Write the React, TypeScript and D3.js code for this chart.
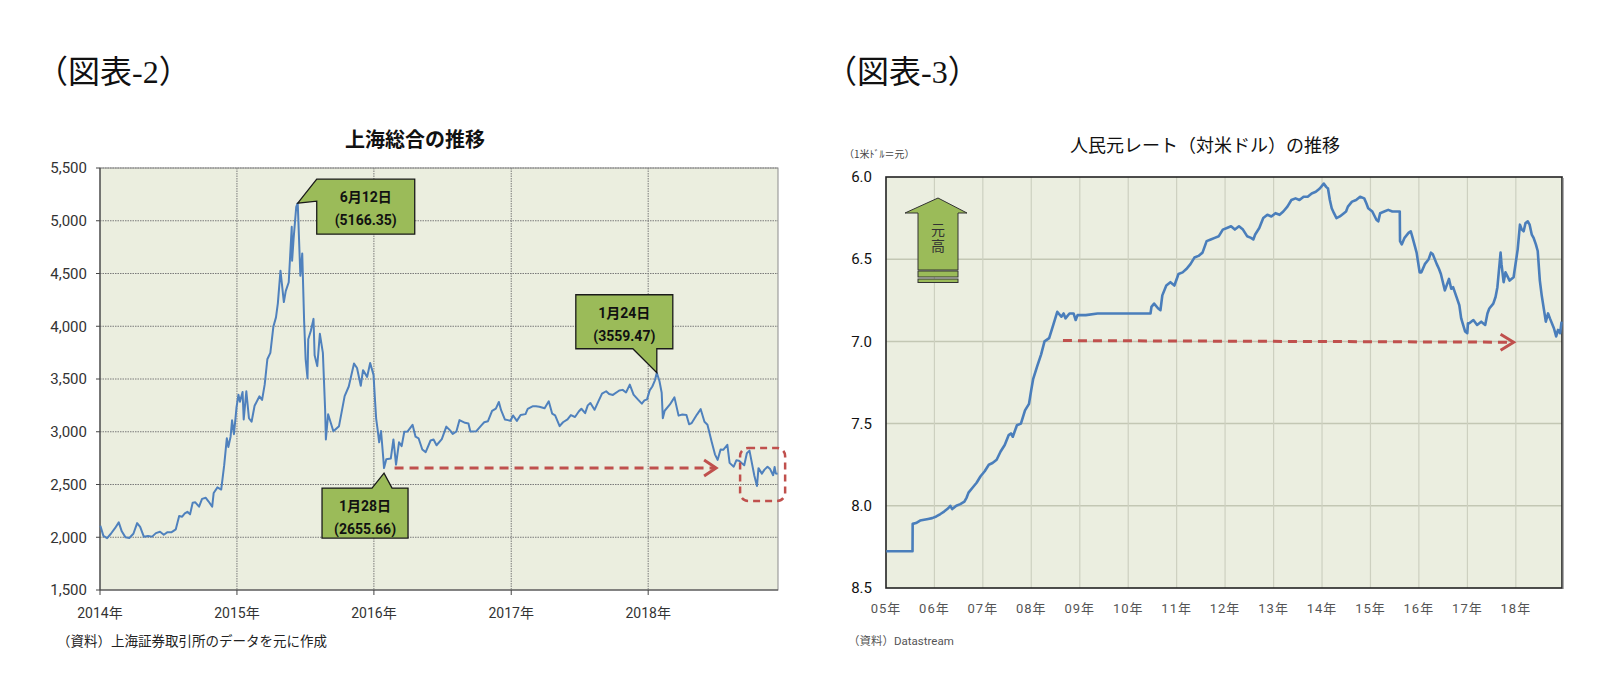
import React from 'react';
import * as d3 from 'd3';

// 上海総合指数（終値, 抜粋）
const shanghaiIndex: [string, number][] = [
  ['2014-01-02', 2109], ['2014-01-10', 2013], ['2014-01-20', 1991], ['2014-01-30', 2033],
  ['2014-02-10', 2086], ['2014-02-20', 2141], ['2014-02-28', 2056], ['2014-03-10', 1999],
  ['2014-03-20', 1993], ['2014-03-31', 2033], ['2014-04-10', 2134], ['2014-04-18', 2098],
  ['2014-04-28', 2004], ['2014-05-09', 2011], ['2014-05-20', 2006], ['2014-05-30', 2039],
  ['2014-06-10', 2052], ['2014-06-20', 2024], ['2014-06-30', 2048], ['2014-07-10', 2047],
  ['2014-07-22', 2075], ['2014-07-31', 2201], ['2014-08-08', 2195], ['2014-08-15', 2226],
  ['2014-08-22', 2241], ['2014-08-29', 2217], ['2014-09-05', 2327], ['2014-09-12', 2331],
  ['2014-09-22', 2290], ['2014-09-30', 2364], ['2014-10-10', 2374], ['2014-10-17', 2341],
  ['2014-10-27', 2290], ['2014-10-31', 2420], ['2014-11-10', 2473], ['2014-11-20', 2452],
  ['2014-11-28', 2683], ['2014-12-05', 2938], ['2014-12-09', 2856], ['2014-12-15', 2953],
  ['2014-12-19', 3108], ['2014-12-24', 2977], ['2014-12-31', 3235],
  ['2015-01-05', 3351], ['2015-01-09', 3285], ['2015-01-16', 3376], ['2015-01-19', 3116],
  ['2015-01-26', 3383], ['2015-02-02', 3128], ['2015-02-09', 3095], ['2015-02-17', 3247],
  ['2015-03-02', 3336], ['2015-03-09', 3302], ['2015-03-16', 3449], ['2015-03-23', 3687],
  ['2015-03-31', 3748], ['2015-04-08', 3995], ['2015-04-15', 4084], ['2015-04-20', 4217],
  ['2015-04-27', 4527], ['2015-05-06', 4229], ['2015-05-11', 4333], ['2015-05-19', 4417],
  ['2015-05-27', 4942], ['2015-05-28', 4621], ['2015-06-01', 4829], ['2015-06-08', 5131],
  ['2015-06-12', 5166.35], ['2015-06-19', 4478], ['2015-06-24', 4690], ['2015-06-29', 4053],
  ['2015-07-03', 3687], ['2015-07-08', 3507], ['2015-07-10', 3877], ['2015-07-17', 3957],
  ['2015-07-24', 4070], ['2015-07-27', 3725], ['2015-08-03', 3622], ['2015-08-10', 3928],
  ['2015-08-18', 3748], ['2015-08-24', 3209], ['2015-08-26', 2927], ['2015-09-01', 3166],
  ['2015-09-15', 3005], ['2015-09-30', 3053], ['2015-10-15', 3338], ['2015-10-26', 3429],
  ['2015-11-09', 3646], ['2015-11-17', 3604], ['2015-11-27', 3436], ['2015-12-03', 3584],
  ['2015-12-14', 3520], ['2015-12-22', 3651], ['2015-12-31', 3539],
  ['2016-01-04', 3296], ['2016-01-07', 3125], ['2016-01-11', 3017], ['2016-01-15', 2900],
  ['2016-01-20', 3007], ['2016-01-26', 2749], ['2016-01-28', 2655.66], ['2016-02-03', 2739],
  ['2016-02-15', 2746], ['2016-02-22', 2927], ['2016-02-29', 2688], ['2016-03-08', 2901],
  ['2016-03-15', 2864], ['2016-03-22', 3000], ['2016-03-31', 3003], ['2016-04-13', 3066],
  ['2016-04-21', 2953], ['2016-04-29', 2938], ['2016-05-09', 2832], ['2016-05-18', 2807],
  ['2016-05-31', 2917], ['2016-06-08', 2927], ['2016-06-16', 2872], ['2016-06-30', 2930],
  ['2016-07-12', 3049], ['2016-07-22', 3013], ['2016-07-29', 2979], ['2016-08-08', 3004],
  ['2016-08-16', 3110], ['2016-08-31', 3085], ['2016-09-09', 3078], ['2016-09-14', 3003],
  ['2016-09-30', 3005], ['2016-10-14', 3063], ['2016-10-21', 3090], ['2016-10-31', 3100],
  ['2016-11-11', 3197], ['2016-11-21', 3219], ['2016-11-29', 3282], ['2016-12-05', 3204],
  ['2016-12-15', 3117], ['2016-12-23', 3110], ['2016-12-30', 3104],
  ['2017-01-06', 3154], ['2017-01-16', 3103], ['2017-01-26', 3159], ['2017-02-08', 3167],
  ['2017-02-14', 3217], ['2017-02-28', 3242], ['2017-03-08', 3241], ['2017-03-17', 3237],
  ['2017-03-31', 3223], ['2017-04-11', 3289], ['2017-04-20', 3172], ['2017-04-28', 3155],
  ['2017-05-10', 3053], ['2017-05-19', 3090], ['2017-05-31', 3117], ['2017-06-09', 3158],
  ['2017-06-20', 3140], ['2017-06-30', 3192], ['2017-07-07', 3218], ['2017-07-17', 3176],
  ['2017-07-24', 3250], ['2017-07-31', 3273], ['2017-08-11', 3208], ['2017-08-21', 3286],
  ['2017-08-31', 3361], ['2017-09-11', 3384], ['2017-09-19', 3357], ['2017-09-29', 3349],
  ['2017-10-16', 3391], ['2017-10-25', 3397], ['2017-11-03', 3372], ['2017-11-13', 3447],
  ['2017-11-23', 3352], ['2017-12-05', 3304], ['2017-12-15', 3266], ['2017-12-22', 3297],
  ['2017-12-29', 3307],
  ['2018-01-05', 3392], ['2018-01-12', 3429], ['2018-01-19', 3488], ['2018-01-24', 3559.47],
  ['2018-01-31', 3481], ['2018-02-06', 3370], ['2018-02-09', 3129], ['2018-02-14', 3199],
  ['2018-02-28', 3259], ['2018-03-12', 3326], ['2018-03-23', 3153], ['2018-04-02', 3163],
  ['2018-04-13', 3159], ['2018-04-20', 3071], ['2018-04-27', 3082], ['2018-05-11', 3163],
  ['2018-05-21', 3214], ['2018-05-31', 3095], ['2018-06-08', 3067], ['2018-06-19', 2907],
  ['2018-06-28', 2786], ['2018-07-05', 2733], ['2018-07-13', 2831], ['2018-07-20', 2829],
  ['2018-07-31', 2876], ['2018-08-06', 2705], ['2018-08-17', 2669], ['2018-08-24', 2729],
  ['2018-08-31', 2725], ['2018-09-07', 2703], ['2018-09-14', 2682], ['2018-09-21', 2797],
  ['2018-09-28', 2821], ['2018-10-11', 2583], ['2018-10-18', 2486], ['2018-10-22', 2655],
  ['2018-10-31', 2603], ['2018-11-07', 2641], ['2018-11-15', 2668], ['2018-11-22', 2646],
  ['2018-11-30', 2588], ['2018-12-04', 2666], ['2018-12-07', 2605], ['2018-12-12', 2602],
];

// 人民元レート（1米ドル＝元）
const cnyRate: [string, number][] = [
  ['2005-01-03', 8.2765], ['2005-04-01', 8.2765], ['2005-06-15', 8.2765], ['2005-07-20', 8.2765],
  ['2005-07-21', 8.11], ['2005-08-15', 8.105], ['2005-09-15', 8.09], ['2005-10-15', 8.085],
  ['2005-11-15', 8.08], ['2005-12-15', 8.075],
  ['2006-01-15', 8.065], ['2006-02-15', 8.05], ['2006-03-15', 8.035], ['2006-04-15', 8.015],
  ['2006-05-01', 8.0], ['2006-05-15', 8.02], ['2006-06-15', 8.0], ['2006-07-15', 7.99],
  ['2006-08-15', 7.975], ['2006-09-01', 7.95], ['2006-09-15', 7.92], ['2006-10-15', 7.89],
  ['2006-11-15', 7.86], ['2006-12-15', 7.82],
  ['2007-01-15', 7.79], ['2007-02-15', 7.75], ['2007-03-15', 7.74], ['2007-04-15', 7.72],
  ['2007-05-15', 7.67], ['2007-06-15', 7.63], ['2007-07-15', 7.57], ['2007-08-01', 7.56],
  ['2007-08-15', 7.58], ['2007-09-15', 7.51], ['2007-10-15', 7.5], ['2007-11-15', 7.42],
  ['2007-12-15', 7.38], ['2007-12-31', 7.3],
  ['2008-01-15', 7.23], ['2008-02-15', 7.15], ['2008-03-15', 7.08], ['2008-04-10', 7.0],
  ['2008-05-15', 6.98], ['2008-06-15', 6.9], ['2008-07-15', 6.82], ['2008-08-15', 6.85],
  ['2008-09-01', 6.83], ['2008-09-15', 6.86], ['2008-10-15', 6.83], ['2008-11-15', 6.83],
  ['2008-12-01', 6.87], ['2008-12-15', 6.84],
  ['2009-02-15', 6.84], ['2009-05-15', 6.83], ['2009-08-15', 6.83], ['2009-11-15', 6.83],
  ['2010-02-15', 6.83], ['2010-05-15', 6.83], ['2010-06-18', 6.83], ['2010-06-25', 6.79],
  ['2010-07-15', 6.77], ['2010-08-15', 6.8], ['2010-09-01', 6.81], ['2010-09-15', 6.72],
  ['2010-10-15', 6.66], ['2010-11-15', 6.64], ['2010-12-15', 6.66],
  ['2011-01-15', 6.59], ['2011-02-15', 6.58], ['2011-03-15', 6.56], ['2011-04-15', 6.53],
  ['2011-05-15', 6.49], ['2011-06-15', 6.48], ['2011-07-15', 6.46], ['2011-08-15', 6.39],
  ['2011-09-15', 6.38], ['2011-10-15', 6.37], ['2011-11-15', 6.36], ['2011-12-15', 6.32],
  ['2012-01-15', 6.31], ['2012-02-15', 6.3], ['2012-03-15', 6.32], ['2012-04-15', 6.3],
  ['2012-05-15', 6.32], ['2012-06-15', 6.36], ['2012-07-15', 6.37], ['2012-08-01', 6.38],
  ['2012-08-15', 6.35], ['2012-09-15', 6.31], ['2012-10-15', 6.25], ['2012-11-15', 6.23],
  ['2012-12-15', 6.24],
  ['2013-01-15', 6.22], ['2013-02-15', 6.23], ['2013-03-15', 6.21], ['2013-04-15', 6.18],
  ['2013-05-15', 6.14], ['2013-06-15', 6.13], ['2013-07-15', 6.14], ['2013-08-15', 6.12],
  ['2013-09-15', 6.12], ['2013-10-15', 6.1], ['2013-11-15', 6.09], ['2013-12-15', 6.07],
  ['2014-01-14', 6.04], ['2014-02-01', 6.06], ['2014-02-15', 6.07], ['2014-03-01', 6.14],
  ['2014-03-15', 6.19], ['2014-04-01', 6.22], ['2014-04-20', 6.25], ['2014-05-15', 6.24],
  ['2014-06-15', 6.22], ['2014-07-01', 6.21], ['2014-07-15', 6.18], ['2014-08-15', 6.15],
  ['2014-09-15', 6.14], ['2014-10-15', 6.12], ['2014-11-15', 6.13], ['2014-12-01', 6.16],
  ['2014-12-15', 6.19],
  ['2015-01-15', 6.21], ['2015-02-15', 6.26], ['2015-03-01', 6.27], ['2015-03-15', 6.22],
  ['2015-04-15', 6.21], ['2015-05-15', 6.2], ['2015-06-15', 6.21], ['2015-07-15', 6.21],
  ['2015-08-10', 6.21], ['2015-08-12', 6.39], ['2015-08-25', 6.41], ['2015-09-15', 6.37],
  ['2015-10-15', 6.34], ['2015-11-01', 6.33], ['2015-11-15', 6.37], ['2015-12-15', 6.46],
  ['2016-01-07', 6.58], ['2016-01-20', 6.58], ['2016-02-15', 6.53], ['2016-03-15', 6.5],
  ['2016-04-01', 6.46], ['2016-04-15', 6.47], ['2016-05-15', 6.53], ['2016-06-01', 6.56],
  ['2016-06-15', 6.59], ['2016-07-15', 6.69], ['2016-08-15', 6.62], ['2016-09-01', 6.68],
  ['2016-09-15', 6.67], ['2016-10-15', 6.74], ['2016-11-01', 6.78], ['2016-11-15', 6.86],
  ['2016-12-15', 6.94], ['2016-12-31', 6.95],
  ['2017-01-05', 6.89], ['2017-01-15', 6.89], ['2017-02-15', 6.87], ['2017-03-15', 6.9],
  ['2017-04-15', 6.88], ['2017-05-15', 6.9], ['2017-06-01', 6.83], ['2017-06-15', 6.8],
  ['2017-07-15', 6.77], ['2017-08-01', 6.73], ['2017-08-15', 6.67], ['2017-09-08', 6.46],
  ['2017-09-15', 6.53], ['2017-10-01', 6.64], ['2017-10-15', 6.58], ['2017-11-15', 6.63],
  ['2017-12-15', 6.61],
  ['2018-01-15', 6.44], ['2018-02-01', 6.29], ['2018-02-15', 6.32], ['2018-03-01', 6.33],
  ['2018-03-15', 6.28], ['2018-04-01', 6.27], ['2018-04-15', 6.29], ['2018-05-01', 6.35],
  ['2018-05-15', 6.37], ['2018-06-01', 6.41], ['2018-06-15', 6.45], ['2018-07-01', 6.63],
  ['2018-07-15', 6.72], ['2018-08-15', 6.88], ['2018-09-01', 6.83], ['2018-09-15', 6.86],
  ['2018-10-15', 6.92], ['2018-11-01', 6.97], ['2018-11-15', 6.93], ['2018-12-01', 6.95],
  ['2018-12-12', 6.88],
];

const shTicks = [1500, 2000, 2500, 3000, 3500, 4000, 4500, 5000, 5500];
const shYears = [2014, 2015, 2016, 2017, 2018];
const cnyTicks = [6.0, 6.5, 7.0, 7.5, 8.0, 8.5];
const cnyYears = [2005, 2006, 2007, 2008, 2009, 2010, 2011, 2012, 2013, 2014, 2015, 2016, 2017, 2018];

// 吹き出し（日付, 値, ラベル）
const shCallouts = [
  { date: '2015-06-12', value: 5166.35, day: '6月12日', text: '(5166.35)' },
  { date: '2018-01-24', value: 3559.47, day: '1月24日', text: '(3559.47)' },
  { date: '2016-01-28', value: 2655.66, day: '1月28日', text: '(2655.66)' },
];
// 赤い点線矢印
const shArrow = { from: '2016-02-25', to: '2018-07-01', value: 2655.66 };
const shHighlight = { from: '2018-09-03', to: '2019-01-01', high: 2846, low: 2344 };
const cnyArrow = { from: '2008-08-27', to: '2017-12-15', fromValue: 6.995, toValue: 7.005 };

const parse = d3.timeParse('%Y-%m-%d');
const JP = "'Noto Sans CJK JP', sans-serif";
const NUM = "Roboto, 'Noto Sans CJK JP', sans-serif";
const SERIF = "'Liberation Serif', 'Noto Sans CJK JP', serif";
const RED = '#c0504d';
const GREEN = '#9bbb59';

export default function App() {
  // 左：上海総合
  const L = { left: 100, right: 778, top: 168, bottom: 590 };
  const xL = d3.scaleTime([new Date(2014, 0, 1), new Date(2018, 11, 13)], [L.left, L.right]);
  const yL = d3.scaleLinear([1500, 5500], [L.bottom, L.top]);
  const shLine = d3
    .line<[string, number]>()
    .x((d) => xL(parse(d[0])!))
    .y((d) => yL(d[1]));

  // 右：人民元
  const R = { left: 886, right: 1562, top: 177, bottom: 588 };
  const xR = d3.scaleTime([new Date(2005, 0, 1), new Date(2018, 11, 15)], [R.left, R.right]);
  const yR = d3.scaleLinear([6.0, 8.5], [R.top, R.bottom]);
  const cnyLine = d3
    .line<[string, number]>()
    .x((d) => xR(parse(d[0])!))
    .y((d) => yR(d[1]));

  // 吹き出しの形（先端はデータ点、箱は先端からのずれ）
  const calloutShapes = shCallouts.map((c, i) => {
    const tx = xL(parse(c.date)!);
    const ty = yL(c.value) + (i === 2 ? 5 : 0);
    let box: number[];
    let path: string;
    if (i === 0) {
      box = [tx + 19, ty - 24, tx + 117, ty + 31];
      const [x0, y0, x1, y1] = box;
      path = `M${x0},${y0}H${x1}V${y1}H${x0}V${y0 + 22}L${tx},${ty}Z`;
    } else if (i === 1) {
      box = [tx - 81, ty - 78, tx + 16, ty - 24];
      const [x0, y0, x1, y1] = box;
      path = `M${x0},${y0}H${x1}V${y1}H${tx}L${tx},${ty}L${tx - 24},${y1}H${x0}Z`;
    } else {
      box = [tx - 62, ty + 15, tx + 24, ty + 65];
      const [x0, y0, x1, y1] = box;
      path = `M${x0},${y0}H${tx - 12}L${tx},${ty}L${tx + 8},${y0}H${x1}V${y1}H${x0}Z`;
    }
    return { ...c, box, path };
  });

  const arrowY = yL(shArrow.value);
  const arrowX0 = xL(parse(shArrow.from)!);
  const arrowX1 = xL(parse(shArrow.to)!);

  const cx0 = xR(parse(cnyArrow.from)!);
  const cx1 = xR(parse(cnyArrow.to)!);
  const cy0 = yR(cnyArrow.fromValue);
  const cy1 = yR(cnyArrow.toValue);

  const hx0 = xL(parse(shHighlight.from)!);
  const hx1 = xL(parse(shHighlight.to)!);
  const hy0 = yL(shHighlight.high);
  const hy1 = yL(shHighlight.low);

  // 元高アイコンの位置
  const ic = { x: R.left + 52, y: R.top + 21 };

  return (
    <svg
      width={1621}
      height={683}
      style={{ position: 'absolute', left: 0, top: 0, background: '#fff' }}
    >
      {/* ===== 図表-2 ===== */}
      <text x={36} y={83} fontFamily={SERIF} fontSize={32} fill="#111">
        （図表-2）
      </text>
      <text x={415} y={147} textAnchor="middle" fontFamily={JP} fontWeight="bold" fontSize={20} fill="#111">
        上海総合の推移
      </text>

      <rect x={L.left} y={L.top} width={L.right - L.left} height={L.bottom - L.top} fill="#ebeedf" />
      {shTicks.slice(1).map((t) => (
        <line key={t} x1={L.left} x2={L.right} y1={yL(t)} y2={yL(t)} stroke="#7a7a7a" strokeDasharray="1.5,1" />
      ))}
      {shYears.slice(1).map((yr) => (
        <line
          key={yr}
          x1={xL(new Date(yr, 0, 1))}
          x2={xL(new Date(yr, 0, 1))}
          y1={L.top}
          y2={L.bottom}
          stroke="#7a7a7a"
          strokeDasharray="1.5,1"
        />
      ))}
      <rect x={L.left} y={L.top} width={L.right - L.left} height={L.bottom - L.top} fill="none" stroke="#8c8c8c" />
      <line x1={L.left} x2={L.left} y1={L.top} y2={L.bottom} stroke="#444" strokeWidth={1.2} />
      <line x1={L.left} x2={L.right} y1={L.bottom} y2={L.bottom} stroke="#444" strokeWidth={1.2} />
      {shTicks.map((t) => (
        <g key={t}>
          <line x1={L.left - 4} x2={L.left} y1={yL(t)} y2={yL(t)} stroke="#444" />
          <text x={L.left - 13} y={yL(t)} dy="0.35em" textAnchor="end" fontFamily={NUM} fontSize={15} fill="#333">
            {d3.format(',')(t)}
          </text>
        </g>
      ))}
      {shYears.map((yr) => (
        <g key={yr}>
          <line x1={xL(new Date(yr, 0, 1))} x2={xL(new Date(yr, 0, 1))} y1={L.bottom} y2={L.bottom + 5} stroke="#444" />
          <text x={xL(new Date(yr, 0, 1))} y={618} textAnchor="middle" fontFamily={NUM} fontSize={14} fill="#333">
            {`${yr}年`}
          </text>
        </g>
      ))}

      <path d={shLine(shanghaiIndex) ?? ''} fill="none" stroke="#4f81bd" strokeWidth={2} strokeLinejoin="round" />

      {/* 赤い点線矢印 */}
      <line x1={arrowX0} x2={arrowX1 - 2} y1={arrowY} y2={arrowY} stroke={RED} strokeWidth={3} strokeDasharray="9,6" />
      <polyline
        points={`${arrowX1 - 12},${arrowY - 8} ${arrowX1},${arrowY} ${arrowX1 - 12},${arrowY + 8}`}
        fill="none"
        stroke={RED}
        strokeWidth={3}
      />
      <rect
        x={hx0}
        y={hy0}
        width={hx1 - hx0}
        height={hy1 - hy0}
        rx={8}
        fill="none"
        stroke={RED}
        strokeWidth={2.5}
        strokeDasharray="7,5"
      />

      {calloutShapes.map((c) => {
        const [x0, y0, x1, y1] = c.box;
        const cxm = (x0 + x1) / 2;
        return (
          <g key={c.date}>
            <path d={c.path} fill={GREEN} stroke="#1a1a1a" strokeWidth={1.3} />
            <text x={cxm} y={y0 + 23} textAnchor="middle" fontFamily={NUM} fontWeight="bold" fontSize={14} fill="#111">
              {c.day}
            </text>
            <text x={cxm} y={y0 + 46} textAnchor="middle" fontFamily={NUM} fontWeight="bold" fontSize={14} fill="#111">
              {c.text}
            </text>
          </g>
        );
      })}

      <text x={57} y={646} fontFamily={JP} fontSize={13.5} fill="#222">
        （資料）上海証券取引所のデータを元に作成
      </text>

      {/* ===== 図表-3 ===== */}
      <text x={825} y={83} fontFamily={SERIF} fontSize={32} fill="#111">
        （図表-3）
      </text>
      <text x={1205} y={152} textAnchor="middle" fontFamily={JP} fontSize={18} fill="#111">
        人民元レート（対米ドル）の推移
      </text>
      <text x={844} y={158} fontFamily={JP} fontSize={10} fill="#444">
        （1米ﾄﾞﾙ＝元）
      </text>

      <rect x={R.left} y={R.top} width={R.right - R.left} height={R.bottom - R.top} fill="#ebeee0" />
      {cnyTicks.slice(1, -1).map((t) => (
        <line key={t} x1={R.left} x2={R.right} y1={yR(t)} y2={yR(t)} stroke="#c3c7b4" strokeWidth={1.5} />
      ))}
      {cnyYears.slice(1).map((yr) => (
        <line
          key={yr}
          x1={xR(new Date(yr, 0, 1))}
          x2={xR(new Date(yr, 0, 1))}
          y1={R.top}
          y2={R.bottom}
          stroke="#cdd0c0"
          strokeWidth={1.2}
        />
      ))}
      <rect
        x={R.left}
        y={R.top}
        width={R.right - R.left}
        height={R.bottom - R.top}
        fill="none"
        stroke="#222"
        strokeWidth={1.6}
      />
      <line x1={R.right + 1} x2={R.right + 1} y1={R.top + 1} y2={R.bottom + 1} stroke="#777" strokeWidth={1.2} />
      {cnyTicks.map((t) => (
        <text key={t} x={872} y={yR(t)} dy="0.35em" textAnchor="end" fontFamily={NUM} fontSize={15} fill="#111">
          {d3.format('.1f')(t)}
        </text>
      ))}
      {cnyYears.map((yr) => (
        <text
          key={yr}
          x={xR(new Date(yr, 0, 1))}
          y={613}
          textAnchor="middle"
          fontFamily={NUM}
          fontSize={13}
          letterSpacing={1}
          fill="#555"
        >
          {`${String(yr).slice(2)}年`}
        </text>
      ))}

      <path d={cnyLine(cnyRate) ?? ''} fill="none" stroke="#4a7ebb" strokeWidth={2.6} strokeLinejoin="round" />

      <line x1={cx0} x2={cx1 - 2} y1={cy0} y2={cy1} stroke={RED} strokeWidth={3} strokeDasharray="9,6" />
      <polyline
        points={`${cx1 - 13},${cy1 - 8} ${cx1},${cy1} ${cx1 - 13},${cy1 + 8}`}
        fill="none"
        stroke={RED}
        strokeWidth={3}
      />

      {/* 元高アイコン */}
      <g stroke="#333" strokeWidth={1} fill={GREEN}>
        <path
          d={`M${ic.x},${ic.y} L${ic.x + 29},${ic.y + 15} H${ic.x + 20} V${ic.y + 72} H${ic.x - 20} V${ic.y + 15} H${ic.x - 33} Z`}
        />
        <rect x={ic.x - 20} y={ic.y + 73} width={40} height={6} />
        <rect x={ic.x - 20} y={ic.y + 81} width={40} height={3.5} />
      </g>
      <text
        x={ic.x}
        y={ic.y + 41}
        textAnchor="middle"
        fontFamily={JP}
        fontSize={14}
        letterSpacing={2}
        fill="#333"
        style={{ writingMode: 'vertical-rl' }}
      >
        元高
      </text>

      <text x={848} y={645} fontFamily={NUM} fontSize={11.5} fill="#555">
        （資料）Datastream
      </text>
    </svg>
  );
}
